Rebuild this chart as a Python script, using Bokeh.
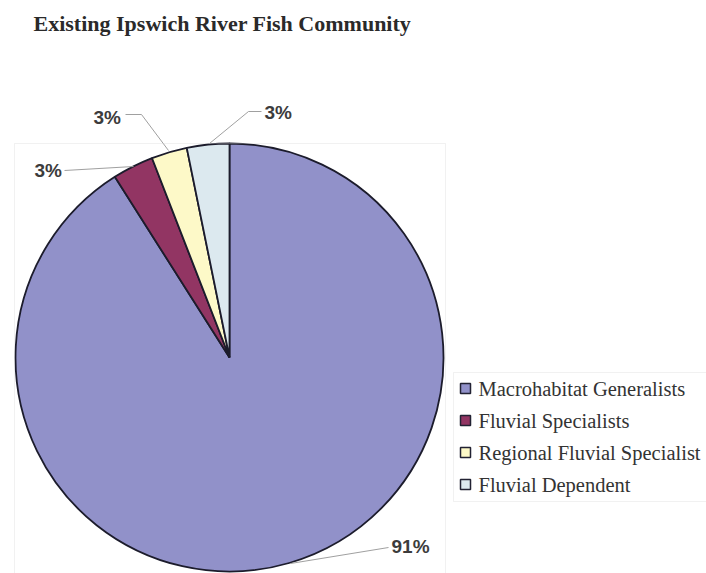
import math
from bokeh.plotting import figure
from bokeh.models import Range1d, BoxAnnotation, Label
from bokeh.core.properties import value
from bokeh.embed import file_html
from bokeh.resources import INLINE

# ---- data ----
categories = ["Macrohabitat Generalists", "Fluvial Specialists",
              "Regional Fluvial Specialist", "Fluvial Dependent"]
shares = [91.0, 3.1, 2.7, 3.2]
pct_labels = ["91%", "3%", "3%", "3%"]
colors = ["#9191c9", "#923563", "#fdf9c8", "#dce9ef"]
title_text = "Existing Ipswich River Fish Community"

W, H = 706, 573
p = figure(width=W, height=H, output_backend="svg", toolbar_location=None,
           x_range=Range1d(0, W), y_range=Range1d(0, H),
           x_axis_type=None, y_axis_type=None, min_border=0,
           outline_line_color=None, background_fill_color="white",
           border_fill_color="white")
p.grid.visible = False

# plot area frame
p.add_layout(BoxAnnotation(left=14, right=445, bottom=-5, top=H - 143,
                           fill_alpha=0, line_color="#cfcfcf", line_width=1))

# pie
cx, cy, r = 229, H - 357, 214
total = sum(shares)
starts, ends = [], []
acc = 0.0
for v in shares:
    starts.append(math.pi / 2 - 2 * math.pi * acc / total)
    acc += v
    ends.append(math.pi / 2 - 2 * math.pi * acc / total)
p.wedge(x=[cx] * 4, y=[cy] * 4, radius=r, start_angle=starts, end_angle=ends,
        direction="clock", fill_color=colors, line_color="#1c1c2c", line_width=1.8)

# leader lines and labels (label order follows categories)
lead_xs = [[290, 388], [133, 64], [168, 141, 125], [209, 248, 261]]
lead_ys = [[H - 563, H - 547], [H - 166, H - 170], [H - 150, H - 114, H - 114], [H - 143, H - 111, H - 111]]
p.multi_line(xs=lead_xs, ys=lead_ys, line_color="#a0a0a0", line_width=1)
lab_x = [391, 34, 93, 264]
lab_y = [H - 546, H - 170, H - 117, H - 112]
p.text(x=lab_x, y=lab_y, text=pct_labels, text_font=value("Liberation Sans"),
       text_font_style="bold", text_font_size="19px", text_color="#3c3c3c",
       text_baseline="middle", text_align="left")

# legend
p.add_layout(BoxAnnotation(left=453, right=W + 10, bottom=H - 501, top=H - 372,
                           fill_alpha=0, line_color="#cfcfcf", line_width=1))
leg_y = [H - 388, H - 420, H - 452, H - 484]
p.scatter(x=[465] * 4, y=leg_y, marker="square", size=10, fill_color=colors,
          line_color="#222233", line_width=1.5)
p.text(x=[478] * 4, y=leg_y, text=categories, text_font=value("Liberation Serif"),
       text_font_size="20.5px", text_color="#333333", text_baseline="middle")

# title
p.add_layout(Label(x=33, y=H - 23, text=title_text, text_font="Liberation Serif",
                   text_font_style="bold", text_font_size="22px",
                   text_color="#2a2a2a", text_baseline="middle"))

open("out.html", "w").write(file_html(p, INLINE))
